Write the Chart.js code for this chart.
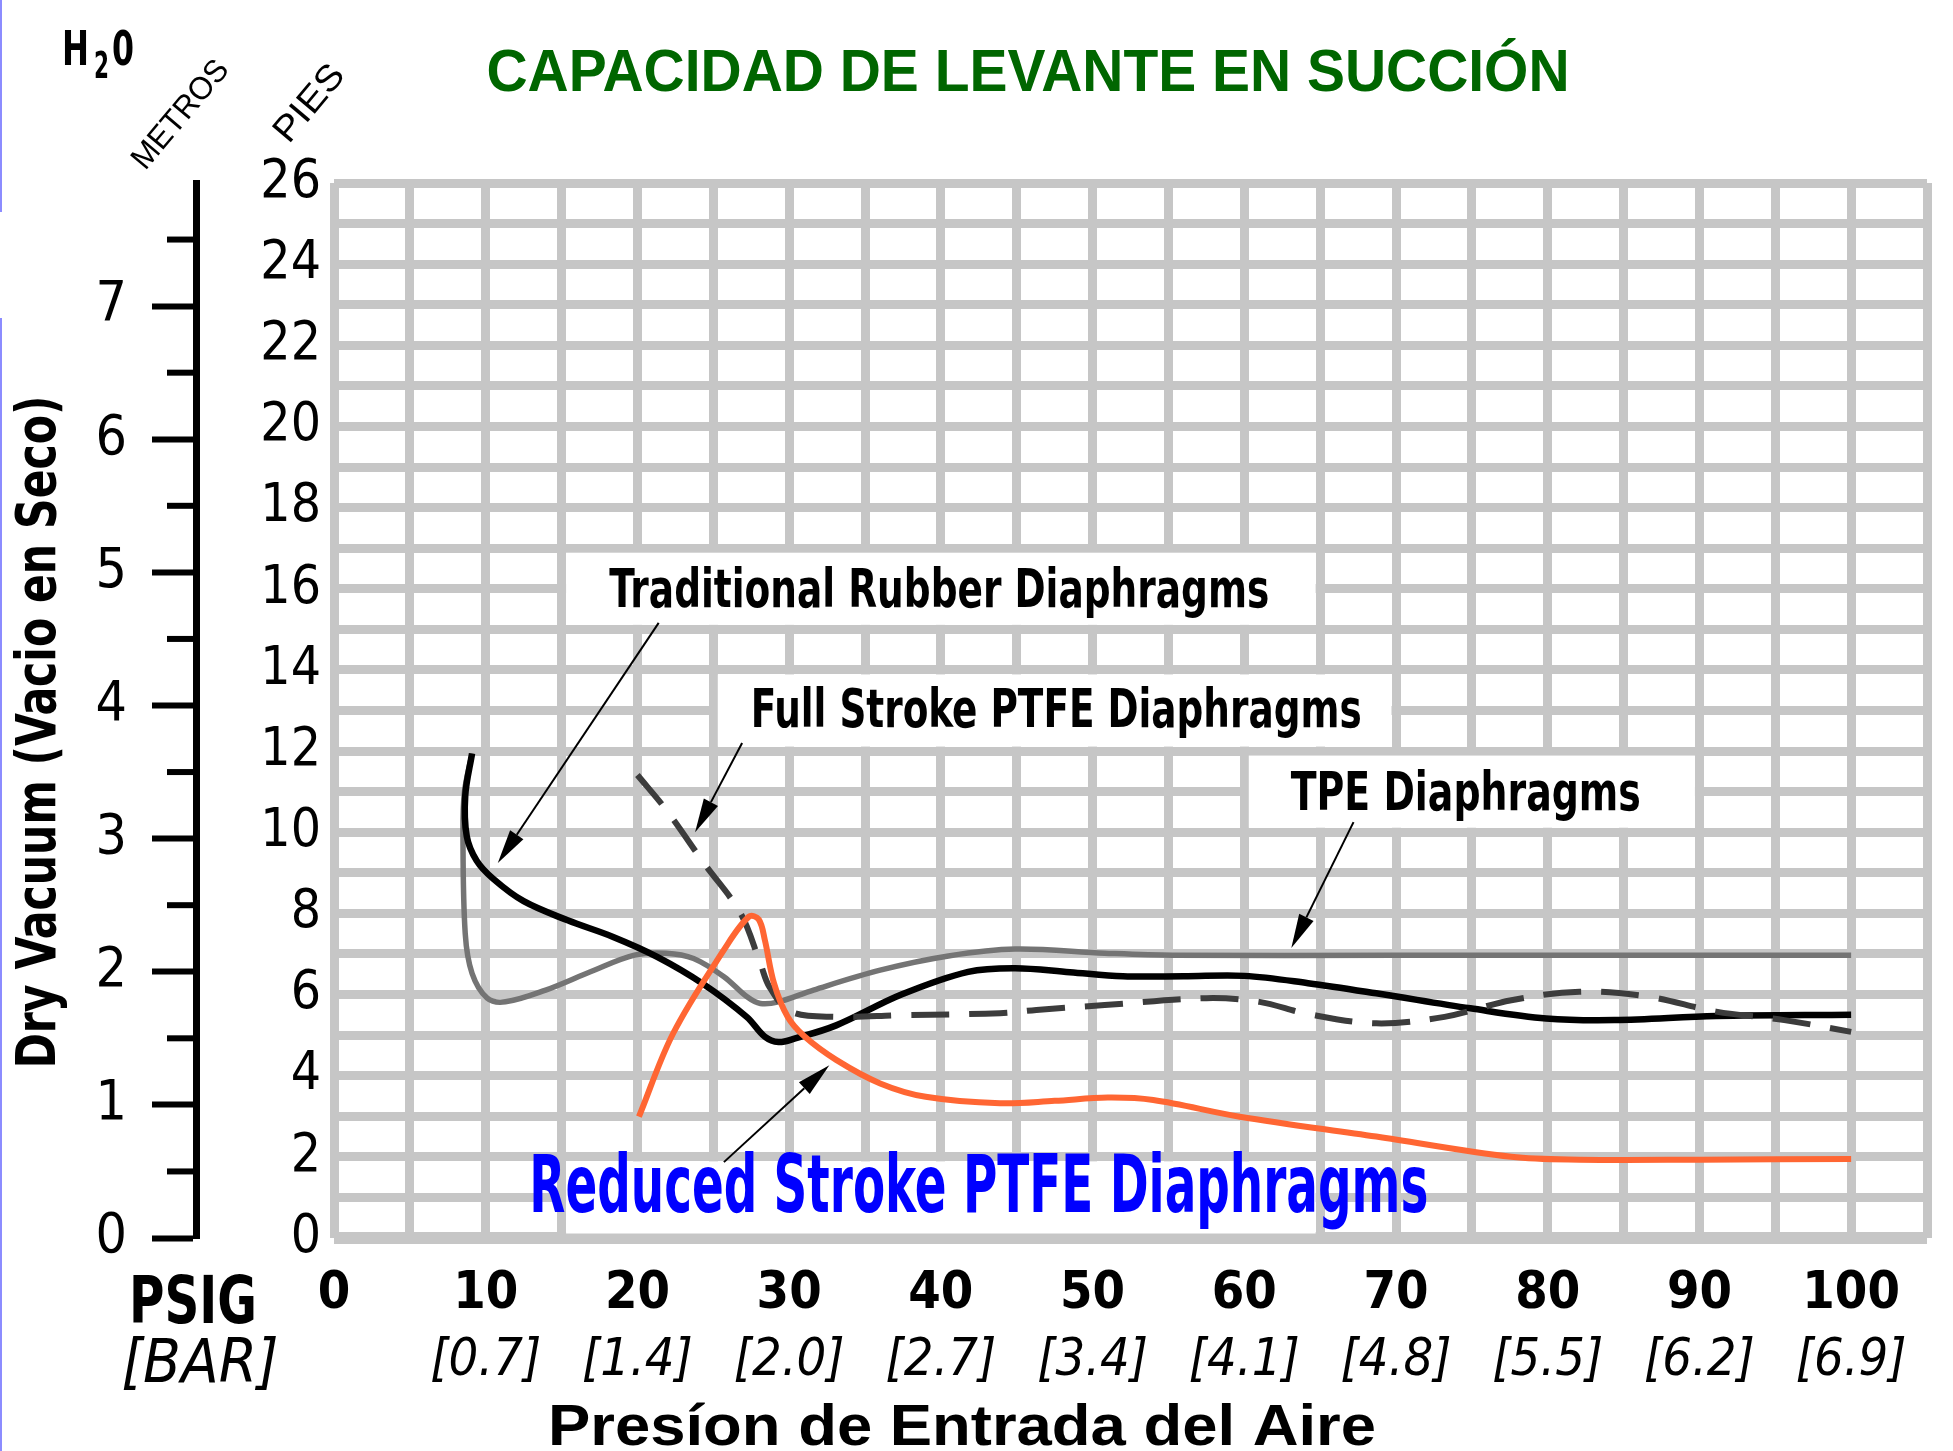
<!DOCTYPE html>
<html>
<head>
<meta charset="utf-8">
<title>Capacidad de levante en succión</title>
<script src="https://cdn.jsdelivr.net/npm/chart.js@4.4.1/dist/chart.umd.min.js"></script>
<style>
  html, body { margin: 0; padding: 0; background: #fff; }
  #wrap { width: 1953px; height: 1451px; position: relative; }
</style>
</head>
<body>
<div id="wrap"><canvas id="suctionChart" width="1953" height="1451"></canvas></div>
<script>
// Values: inlet air pressure (psig) vs dry vacuum (feet of H2O)
const rubberPsi = [9.1, 8.65, 8.75, 9.4, 10.5, 12.5, 15.4, 18.4, 21.3, 24.3, 27.2, 28.4, 29.3, 30.4, 33.1, 37.4, 41.8, 44.9, 48.5, 52.0, 56.0, 60.0, 64.2, 68.7, 74.9, 79.9, 84.4, 91.1, 100];
const rubberFt  = [11.94, 10.9, 9.9, 9.3, 8.85, 8.3, 7.83, 7.42, 6.93, 6.27, 5.45, 4.96, 4.83, 4.92, 5.24, 6.0, 6.56, 6.65, 6.55, 6.45, 6.45, 6.46, 6.28, 6.03, 5.66, 5.41, 5.37, 5.47, 5.5];

const tpePsi = [9.1, 8.6, 8.5, 8.65, 9.1, 10.1, 11.3, 13.95, 16.9, 19.8, 21.9, 23.7, 25.7, 27.2, 28.1, 29.3, 31.6, 36.0, 40.5, 44.9, 50.8, 55.3, 70, 85, 100];
const tpeFt  = [11.94, 11.0, 9.97, 7.5, 6.52, 5.91, 5.82, 6.11, 6.56, 6.97, 7.02, 6.89, 6.44, 5.95, 5.78, 5.82, 6.11, 6.6, 6.95, 7.12, 7.02, 6.97, 6.97, 6.97, 6.97];

const fullPsi = [20.0, 21.9, 24.4, 26.8, 28.1, 28.7, 30.1, 33.1, 37.3, 43.9, 46.3, 50.8, 57.5, 61.0, 64.2, 68.7, 73.2, 77.6, 82.1, 86.6, 91.1, 95.6, 100];
const fullFt  = [11.41, 10.55, 9.23, 8.0, 6.77, 6.19, 5.58, 5.45, 5.49, 5.54, 5.62, 5.74, 5.91, 5.82, 5.52, 5.29, 5.45, 5.86, 6.07, 5.95, 5.58, 5.37, 5.08];

const reducedPsi = [20.1, 22.35, 25.7, 27.35, 28.0, 28.4, 29.0, 29.9, 31.0, 33.1, 36.0, 39.0, 43.9, 47.5, 51.0, 54.0, 59.7, 68.7, 77.6, 82.1, 90, 100];
const reducedFt  = [2.99, 5.04, 7.1, 7.92, 7.85, 7.34, 6.28, 5.45, 4.97, 4.39, 3.81, 3.48, 3.32, 3.38, 3.46, 3.4, 2.99, 2.5, 2.0, 1.93, 1.93, 1.95];

// tick labels
const psigTicks = [0, 10, 20, 30, 40, 50, 60, 70, 80, 90, 100];
const barTicks = ['', '[0.7]', '[1.4]', '[2.0]', '[2.7]', '[3.4]', '[4.1]', '[4.8]', '[5.5]', '[6.2]', '[6.9]'];
const ftTicks = [0, 2, 4, 6, 8, 10, 12, 14, 16, 18, 20, 22, 24, 26];
const meterTicks = [0, 1, 2, 3, 4, 5, 6, 7];
const FT_PER_M = 3.28084;

const NARROW = "'Liberation Sans Narrow', 'Arial Narrow', 'DejaVu Sans Condensed', 'Liberation Sans', sans-serif";
const SANS = "'Liberation Sans', Arial, sans-serif";
const GRID = '#c6c6c6';

// callouts: white boxes sit on whole grid cells (psi / ft), arrows go from tail to tip
const notes = [
  { text: 'Traditional Rubber Diaphragms', box: [15, 65, 15, 17], at: [39.9, 15.55], width: 660, font: 'bold 53px ' + NARROW, color: '#000', arrow: [21.4, 15.16, 10.8, 9.24] },
  { text: 'Full Stroke PTFE Diaphragms', box: [25, 70, 12, 14], at: [47.6, 12.6], width: 611, font: 'bold 53px ' + NARROW, color: '#000', arrow: [26.9, 12.2, 23.8, 10.0] },
  { text: 'TPE Diaphragms', box: [60, 90, 10, 12], at: [74.6, 10.55], width: 350, font: 'bold 53px ' + NARROW, color: '#000', arrow: [67.2, 10.25, 63.1, 7.15] },
  { text: 'Reduced Stroke PTFE Diaphragms', box: [15, 65, 0, 2], at: [42.5, 0.64], width: 899, font: 'bold 80px ' + NARROW, color: '#0000ff', arrow: [25.7, 1.87, 32.65, 4.26] }
];

function fitText(ctx, text, x, y, width, font, color, angle, baseline) {
  ctx.save();
  ctx.font = font;
  ctx.fillStyle = color;
  ctx.textAlign = 'center';
  ctx.textBaseline = baseline || 'alphabetic';
  ctx.translate(x, y);
  if (angle) ctx.rotate(angle);
  const w = ctx.measureText(text).width;
  ctx.scale(width / w, 1);
  ctx.fillText(text, 0, 0);
  ctx.restore();
}

function arrow(ctx, x1, y1, x2, y2) {
  const a = Math.atan2(y2 - y1, x2 - x1);
  const len = 34, half = 8;
  ctx.save();
  ctx.strokeStyle = '#000';
  ctx.fillStyle = '#000';
  ctx.lineWidth = 2;
  ctx.beginPath();
  ctx.moveTo(x1, y1);
  ctx.lineTo(x2 - len * Math.cos(a), y2 - len * Math.sin(a));
  ctx.stroke();
  ctx.beginPath();
  ctx.moveTo(x2, y2);
  ctx.lineTo(x2 - len * Math.cos(a) + half * Math.sin(a), y2 - len * Math.sin(a) - half * Math.cos(a));
  ctx.lineTo(x2 - len * Math.cos(a) - half * Math.sin(a), y2 - len * Math.sin(a) + half * Math.cos(a));
  ctx.closePath();
  ctx.fill();
  ctx.restore();
}

const decor = {
  id: 'decor',
  beforeDatasetsDraw(chart) {
    const { ctx, scales: { x, y } } = chart;
    ctx.save();
    ctx.fillStyle = '#fff';
    notes.forEach(n => {
      const l = x.getPixelForValue(n.box[0]) + 4.5, r = x.getPixelForValue(n.box[1]) - 4.5;
      const t = y.getPixelForValue(n.box[3]) + 4.5, b = y.getPixelForValue(n.box[2]) - 4.5;
      ctx.fillRect(l, t, r - l, b - t);
    });
    ctx.restore();
  },
  afterDatasetsDraw(chart) {
    const { ctx, scales: { x, y } } = chart;
    notes.forEach(n => {
      const [a, b, c, d] = n.arrow;
      arrow(ctx, x.getPixelForValue(a), y.getPixelForValue(b), x.getPixelForValue(c), y.getPixelForValue(d));
      fitText(ctx, n.text, x.getPixelForValue(n.at[0]), y.getPixelForValue(n.at[1]), n.width, n.font, n.color);
    });
  },
  afterDraw(chart) {
    const { ctx } = chart;
    const m = chart.scales.yMetros;
    // short half-metre ticks
    ctx.save();
    ctx.strokeStyle = '#000';
    ctx.lineWidth = 6;
    for (let v = 0.5; v < m.max; v += 1) {
      const py = m.getPixelForValue(v);
      ctx.beginPath();
      ctx.moveTo(m.right - 3, py);
      ctx.lineTo(m.right - 29, py);
      ctx.stroke();
    }
    // thin frame line at the left edge
    ctx.fillStyle = '#8c8cff';
    ctx.fillRect(0, 0, 2, 212);
    ctx.fillRect(0, 318, 2, 1133);
    ctx.restore();

    fitText(ctx, 'CAPACIDAD DE LEVANTE EN SUCCIÓN', 1028, 91, 1083, 'bold 60px ' + SANS, '#006600');
    fitText(ctx, 'H', 75.5, 65, 27, 'bold 48px ' + NARROW, '#000');
    fitText(ctx, '2', 101.5, 78, 15, 'bold 38px ' + NARROW, '#000');
    fitText(ctx, '0', 123, 65, 22, 'bold 48px ' + NARROW, '#000');
    fitText(ctx, 'METROS', 181, 115, 132, '32px ' + SANS, '#000', -50 * Math.PI / 180, 'middle');
    fitText(ctx, 'PIES', 310, 104, 90, '36px ' + SANS, '#000', -50 * Math.PI / 180, 'middle');
    fitText(ctx, 'Dry Vacuum (Vacio en Seco)', 55, 732, 673, 'bold 56px ' + NARROW, '#000', -Math.PI / 2);
    fitText(ctx, 'PSIG', 193, 1323, 128, 'bold 65px ' + NARROW, '#000');
    fitText(ctx, '[BAR]', 200, 1382, 157, 'italic 60px ' + NARROW, '#000');
    fitText(ctx, 'Presíon de Entrada del Aire', 962, 1445, 828, 'bold 57px ' + SANS, '#000');
  }
};

const toPoints = (xs, ys) => xs.map((v, i) => ({ x: v, y: ys[i] }));
const line = (label, xs, ys, color, width, order, dash) => ({
  label,
  data: toPoints(xs, ys),
  showLine: true,
  borderColor: color,
  backgroundColor: color,
  borderWidth: width,
  borderDash: dash || [],
  pointRadius: 0,
  tension: 0.35,
  fill: false,
  order
});

new Chart(document.getElementById('suctionChart'), {
  type: 'scatter',
  data: {
    datasets: [
      line('Reduced Stroke PTFE Diaphragms', reducedPsi, reducedFt, '#ff6633', 6, 0),
      line('Full Stroke PTFE Diaphragms', fullPsi, fullFt, '#3c3c3c', 6, 1, [38, 20]),
      line('Traditional Rubber Diaphragms', rubberPsi, rubberFt, '#000000', 6.5, 2),
      line('TPE Diaphragms', tpePsi, tpeFt, '#747474', 5.5, 3)
    ]
  },
  options: {
    responsive: false,
    animation: false,
    layout: { padding: { top: 183, right: 26, bottom: 56, left: 0 } },
    plugins: {
      legend: { display: false },
      title: { display: false },
      tooltip: { enabled: false }
    },
    scales: {
      x: {
        type: 'linear', position: 'bottom', min: 0, max: 105, weight: 0,
        ticks: {
          stepSize: 5, autoSkip: false, maxRotation: 0, padding: 25, color: '#000',
          font: { family: NARROW, size: 52, weight: 'bold' },
          callback: v => psigTicks.includes(v) ? String(v) : ''
        },
        grid: { color: GRID, lineWidth: 9, drawTicks: false },
        border: { display: false },
        afterFit: s => { s.height = 90; }
      },
      xBar: {
        type: 'linear', position: 'bottom', min: 0, max: 105, weight: 1,
        ticks: {
          stepSize: 5, autoSkip: false, maxRotation: 0, padding: 2, color: '#000',
          font: { family: NARROW, size: 52, style: 'italic' },
          callback: v => { const i = psigTicks.indexOf(v); return i >= 0 ? barTicks[i] : ''; }
        },
        grid: { display: false, drawTicks: false },
        border: { display: false },
        afterFit: s => { s.height = 67; }
      },
      y: {
        type: 'linear', position: 'left', min: 0, max: 26, weight: 0,
        ticks: {
          stepSize: 1, autoSkip: false, padding: 13, color: '#000',
          font: { family: NARROW, size: 53 },
          callback: v => ftTicks.includes(v) ? String(v) : ''
        },
        grid: { color: GRID, lineWidth: c => (c.tick && c.tick.value === 0 ? 12 : 9), drawTicks: false },
        border: { display: false },
        afterFit: s => { s.width = 138; }
      },
      yMetros: {
        type: 'linear', position: 'left', min: 0, max: 26 / FT_PER_M, weight: 1,
        ticks: {
          stepSize: 0.5, includeBounds: false, autoSkip: false, padding: 25, color: '#000',
          font: { family: NARROW, size: 55 },
          callback: v => meterTicks.includes(v) ? String(v) : ''
        },
        grid: {
          drawOnChartArea: false, drawTicks: true, tickLength: 44, tickWidth: 6,
          tickColor: c => (c.tick && meterTicks.includes(c.tick.value) ? '#000' : 'rgba(0,0,0,0)')
        },
        border: { display: true, color: '#000', width: 7 },
        afterFit: s => { s.width = 196; }
      }
    }
  },
  plugins: [decor]
});
</script>
</body>
</html>
